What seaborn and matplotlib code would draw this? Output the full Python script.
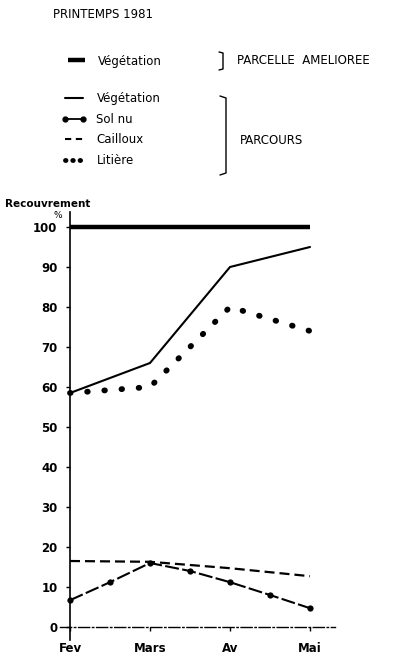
import seaborn as sns
import matplotlib.pyplot as plt
from matplotlib.lines import Line2D

sns.set_style("white")
plt.rcParams['font.family'] = ['DejaVu Sans']
plt.rcParams['text.color'] = 'black'
plt.rcParams['xtick.color'] = 'black'
plt.rcParams['ytick.color'] = 'black'

# data
months = ["Fev", "Mars", "Av", "Mai"]
month_pos = [0, 1, 2, 3]
veg_amelioree = [100, 100, 100, 100]
veg_parcours = [58.5, 66, 90, 95]
litiere = [58.5, 60, 80, 74]
cailloux = [16.5, 16.3, 14.7, 12.7]
sol_nu_pos = [0, 0.5, 1, 1.5, 2, 2.5, 3]
sol_nu = [6.7, 11.2, 16, 14, 11.2, 8, 4.7]
y_ticks = [0, 10, 20, 30, 40, 50, 60, 70, 80, 90, 100]

W, H = 413, 656
fig = plt.figure(figsize=(W / 100, H / 100), dpi=100)


def fx(px):
    return px / W


def fy(py):
    return 1 - py / H


ax = fig.add_axes([fx(60), fy(640), fx(335) - fx(60), fy(212) - fy(640)])

sns.lineplot(x=month_pos, y=veg_amelioree, ax=ax, color='black',
             linewidth=3.2, solid_capstyle='butt')
sns.lineplot(x=month_pos, y=veg_parcours, ax=ax, color='black', linewidth=1.5)
sns.lineplot(x=month_pos, y=litiere, ax=ax, color='black', linewidth=4.2,
             linestyle=(0, (0.1, 2.85)), dash_capstyle='round')
sns.lineplot(x=month_pos, y=cailloux, ax=ax, color='black', linewidth=1.6,
             linestyle=(0, (4.5, 2.25)))
sns.lineplot(x=sol_nu_pos, y=sol_nu, ax=ax, color='black', linewidth=1.5,
             linestyle=(0, (6.7, 1.6)), marker='o', markersize=4.5,
             markeredgewidth=0)

ax.set_xlim(-0.125, 3.3125)
ax.set_ylim(-3.25, 103.75)
ax.set_xticks(month_pos, months)
ax.set_yticks(y_ticks)
ax.set_xlabel('')
ax.set_ylabel('')

for side in ['top', 'right']:
    ax.spines[side].set_visible(False)
ax.spines['left'].set_position(('data', 0))
ax.spines['bottom'].set_position(('data', 0))
ax.spines['left'].set_linewidth(1.2)
ax.spines['bottom'].set_linewidth(1.0)
ax.spines['bottom'].set_linestyle((0, (8, 2, 1, 2)))
for s in ax.spines.values():
    s.set_color('black')

ax.tick_params(axis='y', direction='out', length=3, width=1, pad=6,
               labelsize=8.5, left=True)
ax.tick_params(axis='x', direction='out', length=3, width=1, pad=8,
               labelsize=8.5, bottom=True)
for lab in ax.get_yticklabels() + ax.get_xticklabels():
    lab.set_fontweight('bold')

# titles and annotations
fig.text(fx(53), fy(15), 'PRINTEMPS 1981', fontsize=8.5, va='center', ha='left')
fig.text(fx(5), fy(204), 'Recouvrement', fontsize=7.5, fontweight='bold',
         va='center', ha='left')
fig.text(fx(58), fy(215), '%', fontsize=6.5, va='center', ha='center')
fig.text(fx(237), fy(60), 'PARCELLE  AMELIOREE', fontsize=8.5, va='center', ha='left')
fig.text(fx(240), fy(140), 'PARCOURS', fontsize=8.5, va='center', ha='left')

# legends
h1 = [Line2D([], [], color='black', lw=3.2, solid_capstyle='butt')]
fig.legend(h1, ['Végétation'], loc='center left',
           bbox_to_anchor=(fx(68), fy(61)), frameon=False, fontsize=8.5,
           handlelength=1.4, handletextpad=1.1, borderpad=0, borderaxespad=0)

h2 = [
    Line2D([], [], color='black', lw=1.5),
    Line2D([], [], color='black', lw=1.3, marker='o', markersize=3.5),
    Line2D([], [], color='black', lw=1.5, linestyle=(0, (3, 2.2))),
    Line2D([], [], color='black', lw=3.5, linestyle=(0, (0.1, 1.4)),
           dash_capstyle='round'),
]
labels2 = ['Végétation', 'Sol nu', 'Cailloux', 'Litière']
fig.legend(h2, labels2, loc='upper left', bbox_to_anchor=(fx(61), fy(92)),
           frameon=False, fontsize=8.5, handlelength=2.2, handletextpad=0.8,
           labelspacing=0.65, numpoints=2, borderpad=0, borderaxespad=0)

# brackets
for pts in ([(219, 52), (223, 53), (223, 69), (219, 70)],
            [(220, 96), (226, 98), (226, 173), (220, 175)]):
    fig.add_artist(Line2D([fx(p[0]) for p in pts], [fy(p[1]) for p in pts],
                          transform=fig.transFigure, color='black', lw=1))

fig.savefig('out.png', dpi=100)
